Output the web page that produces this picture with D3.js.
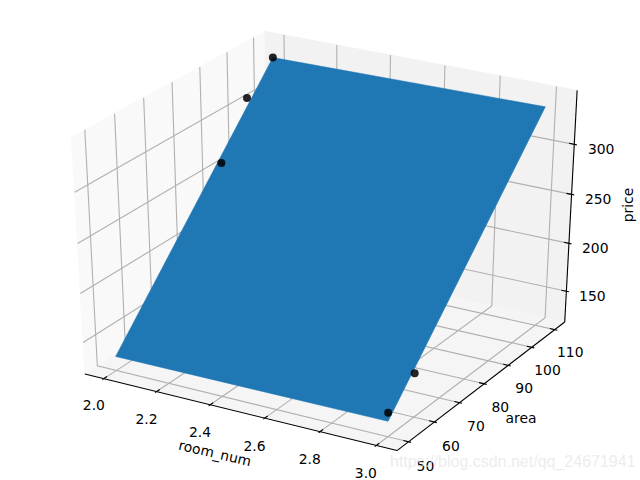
<!DOCTYPE html><html><head><meta charset="utf-8"><script src="https://cdn.jsdelivr.net/npm/d3@7"></script><style>html,body{margin:0;background:#fff}svg{display:block}text{font-family:"DejaVu Sans";fill:#000;font-size:13.9px}</style></head><body><svg id="c" width="640" height="480"></svg><script>
// Data
const surfaceRoom=[2,3,3,2];
const surfaceArea=[50,50,110,110];
const surfacePrice=[132,133,339.6,336.5];
const pointRoom=[2,2,2,3,3];
const pointArea=[110,100,90,60,50];
const pointPrice=[336.5,311,261,162,141.7];
const roomTicks=[2.0,2.2,2.4,2.6,2.8,3.0];
const areaTicks=[50,60,70,80,90,100,110];
const priceTicks=[150,200,250,300];
const xLabel="room_num",yLabel="area",zLabel="price";
const watermark="https://blog.csdn.net/qq_24671941";

const el=30*Math.PI/180,az=-60*Math.PI/180,D=10;
const n=[Math.cos(el)*Math.cos(az),Math.cos(el)*Math.sin(az),Math.sin(el)];
const u=[-n[1],n[0],0].map(d=>d/Math.cos(el));
const v=[n[1]*u[2]-n[2]*u[1],n[2]*u[0]-n[0]*u[2],n[0]*u[1]-n[1]*u[0]];
const dot=(a,b)=>a[0]*b[0]+a[1]*b[1]+a[2]*b[2];
const px=d3.scaleLinear([-.095,.09],[0,640]),py=d3.scaleLinear([-.095,.09],[480,0]);
const C=(a,b,c)=>{const p=[a-.5,b-.5,c-.5],w=D-dot(n,p);return [px(dot(u,p)/w),py(dot(v,p)/w)];};
const X=d3.scaleLinear([1.95,3.05],[0,1]),Y=d3.scaleLinear([47,113],[0,1]),Z=d3.scaleLinear([122,348],[0,1]);
const lo=-1/48,hi=1+1/48,dl=1/12;
const line=d3.line(),svg=d3.select("#c");
const path=(pts,attrs)=>{const s=svg.append("path").attr("d",line(pts)).attr("fill","none");Object.entries(attrs).forEach(([k,w])=>s.attr(k,w));return s;};
const pane=(pts,col)=>path(pts,{fill:col,stroke:col,"stroke-width":1}).attr("d",line(pts)+"Z");
pane([C(lo,lo,lo),C(lo,hi,lo),C(lo,hi,hi),C(lo,lo,hi)],"#f9f9f9");
pane([C(lo,hi,lo),C(hi,hi,lo),C(hi,hi,hi),C(lo,hi,hi)],"#f2f2f2");
pane([C(lo,lo,lo),C(hi,lo,lo),C(hi,hi,lo),C(lo,hi,lo)],"#f5f5f5");
const grid={stroke:"#b0b0b0","stroke-width":1.1};
const ink={stroke:"#000","stroke-width":1.1};
roomTicks.forEach(t=>path([C(X(t),lo,lo),C(X(t),hi,lo),C(X(t),hi,hi)],grid));
areaTicks.forEach(t=>path([C(hi,Y(t),lo),C(lo,Y(t),lo),C(lo,Y(t),hi)],grid));
priceTicks.forEach(t=>path([C(lo,lo,Z(t)),C(lo,hi,Z(t)),C(hi,hi,Z(t))],grid));
path([C(lo,lo,lo),C(hi,lo,lo)],ink);
path([C(hi,lo,lo),C(hi,hi,lo)],ink);
path([C(hi,hi,lo),C(hi,hi,hi)],ink);
const label=(pos,txt)=>svg.append("text").attr("x",pos[0]).attr("y",pos[1]).attr("text-anchor","middle").attr("dominant-baseline","central").text(txt);
roomTicks.forEach(t=>{path([C(X(t),lo-.1*dl,lo),C(X(t),lo+.2*dl,lo)],ink);label(C(X(t),lo-.1*dl-.05,lo-.091),d3.format(".1f")(t));});
areaTicks.forEach(t=>{path([C(hi+.1*dl,Y(t),lo),C(hi-.2*dl,Y(t),lo)],ink);label(C(hi+.1*dl+.047,Y(t),lo-.09),t);});
priceTicks.forEach(t=>{path([C(hi+.1*dl,hi,Z(t)),C(hi-.2*dl,hi,Z(t))],ink);label(C(hi+.1*dl+.075,hi+.0065,Z(t)),t);});
svg.append("path").attr("fill","#1f77b4").attr("stroke","#1f77b4").attr("stroke-width",.5)
 .attr("d",line(surfaceRoom.map((r,i)=>C(X(r),Y(surfaceArea[i]),Z(surfacePrice[i]))))+"Z");
svg.selectAll("circle").data(pointRoom).join("circle").each(function(r,i){const q=C(X(r),Y(pointArea[i]),Z(pointPrice[i]));d3.select(this).attr("cx",q[0]).attr("cy",q[1]);})
 .attr("r",4).attr("fill","#000").attr("fill-opacity",.85);
const axisLabel=(x,y,r,t)=>svg.append("text").attr("transform",`translate(${x},${y}) rotate(${r})`).attr("text-anchor","middle").attr("dominant-baseline","central").text(t);
axisLabel(215,453,13,xLabel);
axisLabel(521,418,0,yLabel);
axisLabel(628,205,-90,zLabel);
svg.append("text").attr("x",390).attr("y",467).style("font-family","Liberation Sans").style("font-size","16px").style("fill","#e4e4e4").attr("fill-opacity",.7).text(watermark);
</script></body></html>
